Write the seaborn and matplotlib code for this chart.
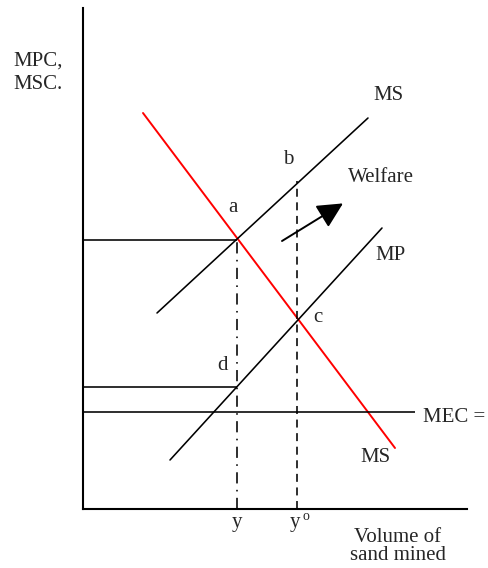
import numpy as np
import pandas as pd
import matplotlib
matplotlib.use('Agg')
import matplotlib.pyplot as plt
import seaborn as sns

# ==========================================
# data: curve endpoints (quantity, cost)
# ==========================================
ms_red_x = [1.5, 7.8]          # marginal social benefit (red, labelled MS)
ms_red_y = [9.9, 1.525]
ms_x = [1.85, 7.125]           # marginal social cost
ms_y = [4.9, 9.775]
mp_x = [2.175, 7.475]          # marginal private cost
mp_y = [1.225, 7.025]
mec_level = 2.425
mec_end = 8.3

y_social = 3.85                # y
y_private = 5.35               # y°
price_a = 6.725
price_d = 3.05
price_b = 8.2

arrow_from = (4.975, 6.7)
arrow_to = (6.5, 7.64)

point_labels = ['a', 'b', 'c', 'd']
point_label_x = [3.75, 5.125, 5.875, 3.475]
point_label_y = [7.525, 8.725, 4.8, 3.575]

sns.set_style('white')
plt.rcParams['font.family'] = ['Liberation Serif', 'DejaVu Serif']
plt.rcParams['font.size'] = 15

fig = plt.figure(figsize=(4.88, 5.68), dpi=100)
ax = fig.add_axes([83/488, 59/568, 384/488, 501/568])
ax.set_xlim(0, 9.6)
ax.set_ylim(0, 12.525)

lw = 1.15
sns.lineplot(x=ms_red_x, y=ms_red_y, ax=ax, color='red', lw=1.4, sort=False)
sns.lineplot(x=ms_x, y=ms_y, ax=ax, color='black', lw=lw, sort=False)
sns.lineplot(x=mp_x, y=mp_y, ax=ax, color='black', lw=lw, sort=False)
ax.hlines(mec_level, 0, mec_end, color='black', lw=lw)

# price guides
ax.hlines(price_a, 0, y_social, color='black', lw=lw)
ax.hlines(price_d, 0, y_social, color='black', lw=lw)
ax.vlines(y_social, 0, price_a, color='black', lw=lw, linestyles=[(0, (7, 4, 1, 4))])
ax.vlines(y_private, 0, price_b, color='black', lw=lw, linestyles=[(0, (5, 3.5))])

# welfare arrow
ax.annotate('', xy=arrow_to, xytext=arrow_from,
            arrowprops=dict(arrowstyle='-|>,head_length=0.6,head_width=0.3',
                            color='black', lw=1.4, mutation_scale=26,
                            shrinkA=0, shrinkB=0))

# labels
for lab, lx, ly in zip(point_labels, point_label_x, point_label_y):
    ax.text(lx, ly, lab, ha='center', va='center')
ax.text(7.625, 10.35, 'MS', ha='center', va='center')
ax.text(7.7, 6.35, 'MP', ha='center', va='center')
ax.text(7.3, 1.3, 'MS', ha='center', va='center')
ax.text(6.625, 8.3, 'Welfare', ha='left', va='center')
ax.text(8.5, 2.3, 'MEC =', ha='left', va='center', clip_on=False)
ax.text(y_social, -0.35, 'y', ha='center', va='center', clip_on=False)
ax.text(y_private - 0.05, -0.35, 'y', ha='center', va='center', clip_on=False)
ax.text(y_private + 0.13, -0.2, 'o', ha='left', va='center', fontsize=10, clip_on=False)
ax.text(7.875, -0.93, 'Volume of\nsand mined', ha='center', va='center',
        linespacing=0.92, clip_on=False)
fig.text(13/488, 1 - 73/568, 'MPC,\nMSC.', ha='left', va='center', fontsize=15,
         linespacing=1.3)

for side in ['top', 'right']:
    ax.spines[side].set_visible(False)
for side in ['left', 'bottom']:
    ax.spines[side].set_color('black')
    ax.spines[side].set_linewidth(1.5)
ax.set_xticks([])
ax.set_yticks([])
ax.set_xlabel('')
ax.set_ylabel('')

plt.savefig('out.png', dpi=100)
